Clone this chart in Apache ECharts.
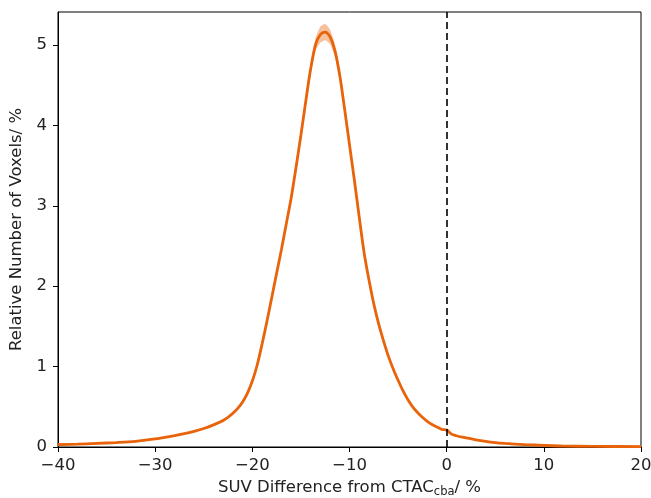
<!DOCTYPE html>
<html>
<head>
<meta charset="utf-8">
<style>
  html, body { margin: 0; padding: 0; background: #fff; }
  #chart { width: 651px; height: 498px; }
</style>
<script src="https://cdn.jsdelivr.net/npm/echarts@6/dist/echarts.min.js"></script>
</head>
<body>
<div id="chart"></div>
<script>
// SUV difference (%) and mean relative number of voxels (%)
var suvDiff = [-40, -38, -36, -34, -32, -30, -29, -28, -27, -26, -25, -24, -23, -22.5, -22, -21.5, -21, -20.5, -20, -19.5,
    -19, -18.5, -18, -17.5, -17, -16.5, -16, -15.5, -15, -14.5, -14, -13.5, -13, -12.5, -12, -11.5, -11,
    -10.5, -10, -9.5, -9, -8.5, -8, -7.5, -7, -6.5, -6, -5.5, -5, -4.5, -4, -3.5, -3, -2.5, -2, -1.5, -1,
    -0.5, 0, 0.5, 1, 1.5, 2, 3, 4, 5, 6, 8, 10, 12, 15, 20];
var meanVoxels = [0.03, 0.035, 0.045, 0.055, 0.07, 0.1, 0.12, 0.14, 0.165, 0.195, 0.23, 0.275, 0.33, 0.37, 0.42, 0.48, 0.56, 0.67, 0.82, 1.02,
    1.28, 1.56, 1.86, 2.16, 2.46, 2.78, 3.1, 3.48, 3.88, 4.3, 4.7, 5.0, 5.13, 5.16, 5.1, 4.93, 4.62,
    4.2, 3.76, 3.32, 2.86, 2.42, 2.08, 1.78, 1.53, 1.32, 1.13, 0.97, 0.83, 0.7, 0.59, 0.5, 0.43, 0.37, 0.32, 0.28, 0.25,
    0.22, 0.21, 0.16, 0.14, 0.125, 0.115, 0.09, 0.07, 0.055, 0.045, 0.03, 0.02, 0.012, 0.008, 0.004];
// half width of the shaded band
var spread = [0.01, 0.01, 0.01, 0.01, 0.01, 0.01, 0.01, 0.01, 0.01, 0.01, 0.015, 0.015, 0.02, 0.02, 0.02, 0.02, 0.02, 0.02, 0.02, 0.025,
    0.03, 0.03, 0.03, 0.03, 0.03, 0.035, 0.04, 0.04, 0.05, 0.06, 0.07, 0.08, 0.1, 0.1, 0.09, 0.08, 0.06,
    0.05, 0.04, 0.04, 0.03, 0.03, 0.03, 0.03, 0.025, 0.02, 0.02, 0.02, 0.02, 0.015, 0.015, 0.01, 0.01, 0.01, 0.01, 0.01, 0.01,
    0.01, 0.01, 0.01, 0.01, 0.01, 0.01, 0.01, 0.01, 0.01, 0.01, 0.01, 0.01, 0.01, 0.01, 0.01];

var xTicks = [-40, 20, 10];
var yTicks = [0, 5.41, 1];

var lineColor = '#e8630a';
var font = 'DejaVu Sans';
var fontSize = 16.5;

var meanData = [];
for (var i = 0; i < suvDiff.length; i++) {
    meanData.push([suvDiff[i], meanVoxels[i]]);
}

// shaded band: one polygon, upper edge left to right then lower edge back
function renderBand(params, api) {
    var pts = [];
    var i;
    for (i = 0; i < suvDiff.length; i++) {
        pts.push(api.coord([suvDiff[i], meanVoxels[i] + spread[i]]));
    }
    for (i = suvDiff.length - 1; i >= 0; i--) {
        pts.push(api.coord([suvDiff[i], Math.max(0, meanVoxels[i] - spread[i])]));
    }
    return {
        type: 'polygon',
        shape: { points: pts, smooth: 0.2 },
        style: { fill: lineColor, opacity: 0.4 }
    };
}

var chart = echarts.init(document.getElementById('chart'));

var option = {
    animation: false,
    grid: {
        left: 58,
        right: 10,
        top: 12,
        bottom: 51,
        outerBoundsMode: 'none',
        containLabel: false,
        show: true,
        borderColor: '#000',
        borderWidth: 1,
        backgroundColor: 'transparent'
    },
    xAxis: {
        type: 'value',
        min: xTicks[0],
        max: xTicks[1],
        interval: xTicks[2],
        splitLine: { show: false },
        axisLine: { show: true, onZero: false, lineStyle: { color: '#000' } },
        axisTick: { show: true, length: 5, lineStyle: { color: '#000' } },
        axisLabel: {
            color: '#222',
            fontSize: fontSize,
            fontFamily: font,
            margin: 10,
            formatter: function (v) { return v < 0 ? '\u2212' + Math.abs(v) : String(v); }
        },
        name: '{a|SUV Difference from CTAC}{b|cba}{a|/ %}',
        nameLocation: 'middle',
        nameGap: 31,
        nameTextStyle: {
            rich: {
                a: { fontSize: fontSize, fontFamily: font, color: '#222' },
                b: { fontSize: 11.5, fontFamily: font, color: '#222', padding: [8, 0, 0, 0] }
            }
        }
    },
    yAxis: {
        type: 'value',
        min: yTicks[0],
        max: yTicks[1],
        interval: yTicks[2],
        splitLine: { show: false },
        axisLine: { show: true, onZero: false, lineStyle: { color: '#000' } },
        axisTick: { show: true, length: 5, lineStyle: { color: '#000' } },
        axisLabel: {
            color: '#222',
            fontSize: fontSize,
            fontFamily: font,
            margin: 11,
            showMaxLabel: false
        },
        name: 'Relative Number of Voxels/ %',
        nameLocation: 'middle',
        nameGap: 27,
        nameTextStyle: { fontSize: fontSize, fontFamily: font, color: '#222' }
    },
    series: [
        {
            type: 'custom',
            data: [0],
            renderItem: renderBand,
            silent: true,
            z: 1
        },
        {
            type: 'line',
            data: meanData,
            showSymbol: false,
            smooth: 0.3,
            lineStyle: { color: lineColor, width: 2.8 },
            markLine: {
                symbol: 'none',
                silent: true,
                label: { show: false },
                lineStyle: { color: '#000', type: [7, 4], width: 1.6 },
                data: [{ xAxis: 0 }]
            },
            z: 3
        }
    ]
};

chart.setOption(option);
</script>
</body>
</html>
